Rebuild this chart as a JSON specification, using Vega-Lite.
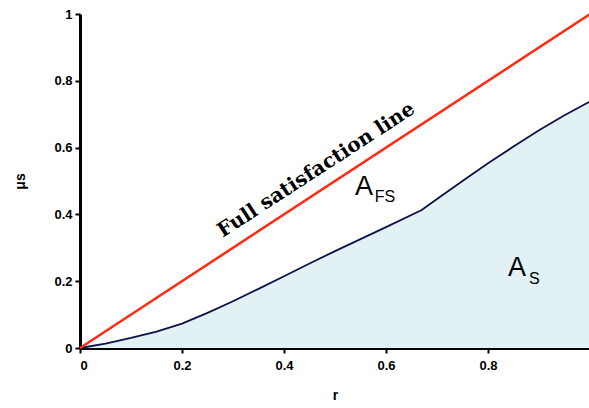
{
  "$schema": "https://vega.github.io/schema/vega-lite/v6.json",
  "autosize": {"type": "none"},
  "padding": {"left": 80, "top": 14, "right": 0, "bottom": 60},
  "width": 510,
  "height": 334,
  "background": "white",
  "config": {"view": {"stroke": null}},
  "datasets": {
    "curve": [
      {"r": 0, "mu": 0}, {"r": 0.05, "mu": 0.013}, {"r": 0.1, "mu": 0.03}, {"r": 0.15, "mu": 0.049},
      {"r": 0.2, "mu": 0.073}, {"r": 0.25, "mu": 0.105}, {"r": 0.3, "mu": 0.14}, {"r": 0.35, "mu": 0.177},
      {"r": 0.4, "mu": 0.215}, {"r": 0.45, "mu": 0.253}, {"r": 0.5, "mu": 0.29}, {"r": 0.55, "mu": 0.326},
      {"r": 0.6, "mu": 0.362}, {"r": 0.67, "mu": 0.413}, {"r": 0.7, "mu": 0.446}, {"r": 0.75, "mu": 0.5},
      {"r": 0.8, "mu": 0.553}, {"r": 0.85, "mu": 0.603}, {"r": 0.9, "mu": 0.652}, {"r": 0.95, "mu": 0.697},
      {"r": 1.0, "mu": 0.738}
    ],
    "full": [{"r": 0, "mu": 0}, {"r": 1, "mu": 1}],
    "main": [
      {"r": 0.557, "mu": 0.482, "t": "A"},
      {"r": 0.857, "mu": 0.24, "t": "A"}
    ],
    "sub": [
      {"r": 0.598, "mu": 0.451, "t": "FS"},
      {"r": 0.891, "mu": 0.206, "t": "S"}
    ],
    "fsl": [{"r": 0.463, "mu": 0.533, "t": "Full satisfaction line"}]
  },
  "layer": [
    {
      "data": {"name": "curve"},
      "mark": {"type": "area", "color": "#e2f1f3", "clip": true},
      "encoding": {
        "x": {"field": "r", "type": "quantitative", "scale": {"domain": [0, 1], "nice": false},
          "axis": {"values": [0, 0.2, 0.4, 0.6, 0.8], "format": "~g", "title": "r", "grid": false,
            "domainColor": "black", "domainWidth": 3, "tickColor": "black", "tickWidth": 2, "tickSize": 5,
            "labelFont": "Liberation Sans", "labelFontWeight": "bold", "labelFontSize": 13, "labelColor": "black", "labelPadding": 6,
            "titleFont": "Liberation Sans", "titleFontWeight": "bold", "titleFontSize": 14, "titleColor": "black", "titlePadding": 16}},
        "y": {"field": "mu", "type": "quantitative", "scale": {"domain": [0, 1], "nice": false},
          "axis": {"values": [0, 0.2, 0.4, 0.6, 0.8, 1], "format": "~g", "title": "μs", "grid": false,
            "domainColor": "black", "domainWidth": 3, "tickColor": "black", "tickWidth": 2, "tickSize": 5,
            "labelFont": "Liberation Sans", "labelFontWeight": "bold", "labelFontSize": 13, "labelColor": "black", "labelPadding": 3,
            "titleFont": "Liberation Sans", "titleFontWeight": "bold", "titleFontSize": 14, "titleColor": "black", "titlePadding": 26}}
      }
    },
    {
      "data": {"name": "curve"},
      "mark": {"type": "line", "color": "#10104a", "strokeWidth": 1.8},
      "encoding": {"x": {"field": "r", "type": "quantitative"}, "y": {"field": "mu", "type": "quantitative"}}
    },
    {
      "data": {"name": "full"},
      "mark": {"type": "line", "color": "#ff2a12", "strokeWidth": 2.5},
      "encoding": {"x": {"field": "r", "type": "quantitative"}, "y": {"field": "mu", "type": "quantitative"}}
    },
    {
      "mark": {"type": "rule", "color": "#999999", "strokeWidth": 2},
      "encoding": {"y": {"datum": 1}}
    },
    {
      "data": {"name": "fsl"},
      "mark": {"type": "text", "font": "DejaVu Serif", "fontWeight": "bold", "fontSize": 20, "angle": -33, "color": "black"},
      "encoding": {"x": {"field": "r", "type": "quantitative"}, "y": {"field": "mu", "type": "quantitative"}, "text": {"field": "t"}}
    },
    {
      "data": {"name": "main"},
      "mark": {"type": "text", "font": "Liberation Sans", "fontSize": 27, "color": "black"},
      "encoding": {"x": {"field": "r", "type": "quantitative"}, "y": {"field": "mu", "type": "quantitative"}, "text": {"field": "t"}}
    },
    {
      "data": {"name": "sub"},
      "mark": {"type": "text", "font": "Liberation Sans", "fontSize": 16, "color": "black"},
      "encoding": {"x": {"field": "r", "type": "quantitative"}, "y": {"field": "mu", "type": "quantitative"}, "text": {"field": "t"}}
    }
  ]
}
